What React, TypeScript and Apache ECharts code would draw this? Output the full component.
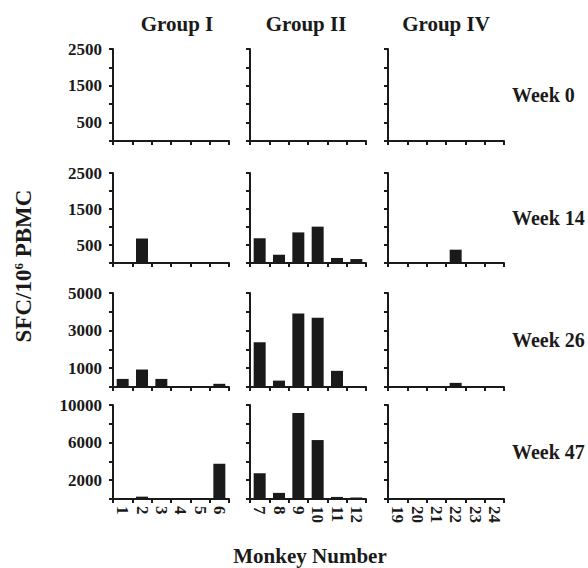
import React, { useEffect, useRef } from "react";
import * as echarts from "echarts";

const groupNames = ["Group I", "Group II", "Group IV"];
const weekNames = ["Week 0", "Week 14", "Week 26", "Week 47"];
const monkeysI = ["1", "2", "3", "4", "5", "6"];
const monkeysII = ["7", "8", "9", "10", "11", "12"];
const monkeysIV = ["19", "20", "21", "22", "23", "24"];
const yMaxByWeek = [2500, 2500, 5000, 10000];

const week0I = [0, 0, 0, 0, 0, 0];
const week0II = [0, 0, 0, 0, 0, 0];
const week0IV = [0, 0, 0, 0, 0, 0];
const week14I = [0, 680, 0, 0, 0, 0];
const week14II = [690, 230, 850, 1010, 140, 110];
const week14IV = [0, 0, 0, 370, 0, 0];
const week26I = [430, 930, 430, 0, 0, 170];
const week26II = [2380, 340, 3910, 3680, 860, 0];
const week26IV = [0, 0, 0, 220, 0, 0];
const week47I = [0, 250, 0, 0, 0, 3750];
const week47II = [2730, 650, 9160, 6270, 220, 160];
const week47IV = [0, 0, 0, 0, 0, 0];

const categories = [monkeysI, monkeysII, monkeysIV];
const values = [
  [week0I, week0II, week0IV],
  [week14I, week14II, week14IV],
  [week26I, week26II, week26IV],
  [week47I, week47II, week47IV],
];

const FONT = "'Liberation Serif', 'Times New Roman', serif";
const INK = "#1a1a1a";

export default function App() {
  const ref = useRef<HTMLDivElement>(null);
  useEffect(() => {
    if (!ref.current) return;
    const chart = echarts.init(ref.current, undefined, { renderer: "svg" });
    const colLeft = [113, 250, 388];
    const colWidth = 116;
    const rowTop = [49, 173, 293, 405];
    const rowBottom = [141, 263, 387, 499];
    const grids: any[] = [];
    const xAxes: any[] = [];
    const yAxes: any[] = [];
    const series: any[] = [];
    let idx = 0;
    for (let r = 0; r < 4; r++) {
      for (let c = 0; c < 3; c++) {
        grids.push({
          left: colLeft[c],
          top: rowTop[r],
          width: colWidth,
          height: rowBottom[r] - rowTop[r],
          containLabel: false,
        });
        xAxes.push({
          type: "category",
          gridIndex: idx,
          data: categories[c],
          boundaryGap: true,
          axisLine: { show: true, lineStyle: { color: INK, width: 2 } },
          axisTick: { show: true, inside: false, length: 4, interval: 0, lineStyle: { color: INK, width: 2 } },
          axisLabel: {
            show: r === 3,
            interval: 0,
            rotate: -90,
            margin: 7,
            color: INK,
            fontFamily: FONT,
            fontWeight: "bold",
            fontSize: 17,
          },
          splitLine: { show: false },
        });
        const max = yMaxByWeek[r];
        const interval = max / 5;
        yAxes.push({
          type: "value",
          gridIndex: idx,
          min: 0,
          max,
          interval,
          axisLine: { show: true, lineStyle: { color: INK, width: 2 } },
          axisTick: { show: true, inside: false, length: 4, lineStyle: { color: INK, width: 2 } },
          axisLabel: {
            show: c === 0,
            margin: 11,
            color: INK,
            fontFamily: FONT,
            fontWeight: "bold",
            fontSize: 17,
            formatter: (v: number) => (Math.round(v / interval) % 2 === 1 ? String(v) : ""),
          },
          splitLine: { show: false },
        });
        series.push({
          type: "bar",
          xAxisIndex: idx,
          yAxisIndex: idx,
          data: values[r][c],
          barWidth: "62%",
          itemStyle: { color: INK },
        });
        idx++;
      }
    }
    const titleStyle = { fill: INK, fontFamily: FONT, fontWeight: "bold", fontSize: 21 };
    const groupCenters = [177, 306, 446];
    const graphic: any[] = [];
    groupNames.forEach((g, i) => {
      graphic.push({
        type: "text",
        x: groupCenters[i],
        y: 24,
        style: { ...titleStyle, text: g, textAlign: "center", textVerticalAlign: "middle" },
      });
    });
    weekNames.forEach((w, r) => {
      graphic.push({
        type: "text",
        x: 512,
        y: (rowTop[r] + rowBottom[r]) / 2,
        style: { ...titleStyle, fontSize: 20, text: w, textAlign: "left", textVerticalAlign: "middle" },
      });
    });
    graphic.push({
      type: "text",
      x: 310,
      y: 556,
      style: { ...titleStyle, text: "Monkey Number", textAlign: "center", textVerticalAlign: "middle" },
    });
    graphic.push({
      type: "text",
      x: 23,
      y: 266,
      rotation: Math.PI / 2,
      style: {
        ...titleStyle,
        fontSize: 23,
        text: "SFC/10{sup|6} PBMC",
        textAlign: "center",
        textVerticalAlign: "middle",
        rich: {
          sup: { fontFamily: FONT, fontWeight: "bold", fontSize: 13, verticalAlign: "top", fill: INK },
        },
      },
    });
    chart.setOption({
      animation: false,
      backgroundColor: "#ffffff",
      grid: grids,
      xAxis: xAxes,
      yAxis: yAxes,
      series,
      graphic,
    });
    return () => chart.dispose();
  }, []);
  return (
    <div
      ref={ref}
      style={{ position: "fixed", left: 0, top: 0, width: 588, height: 568, background: "#fff" }}
    />
  );
}
